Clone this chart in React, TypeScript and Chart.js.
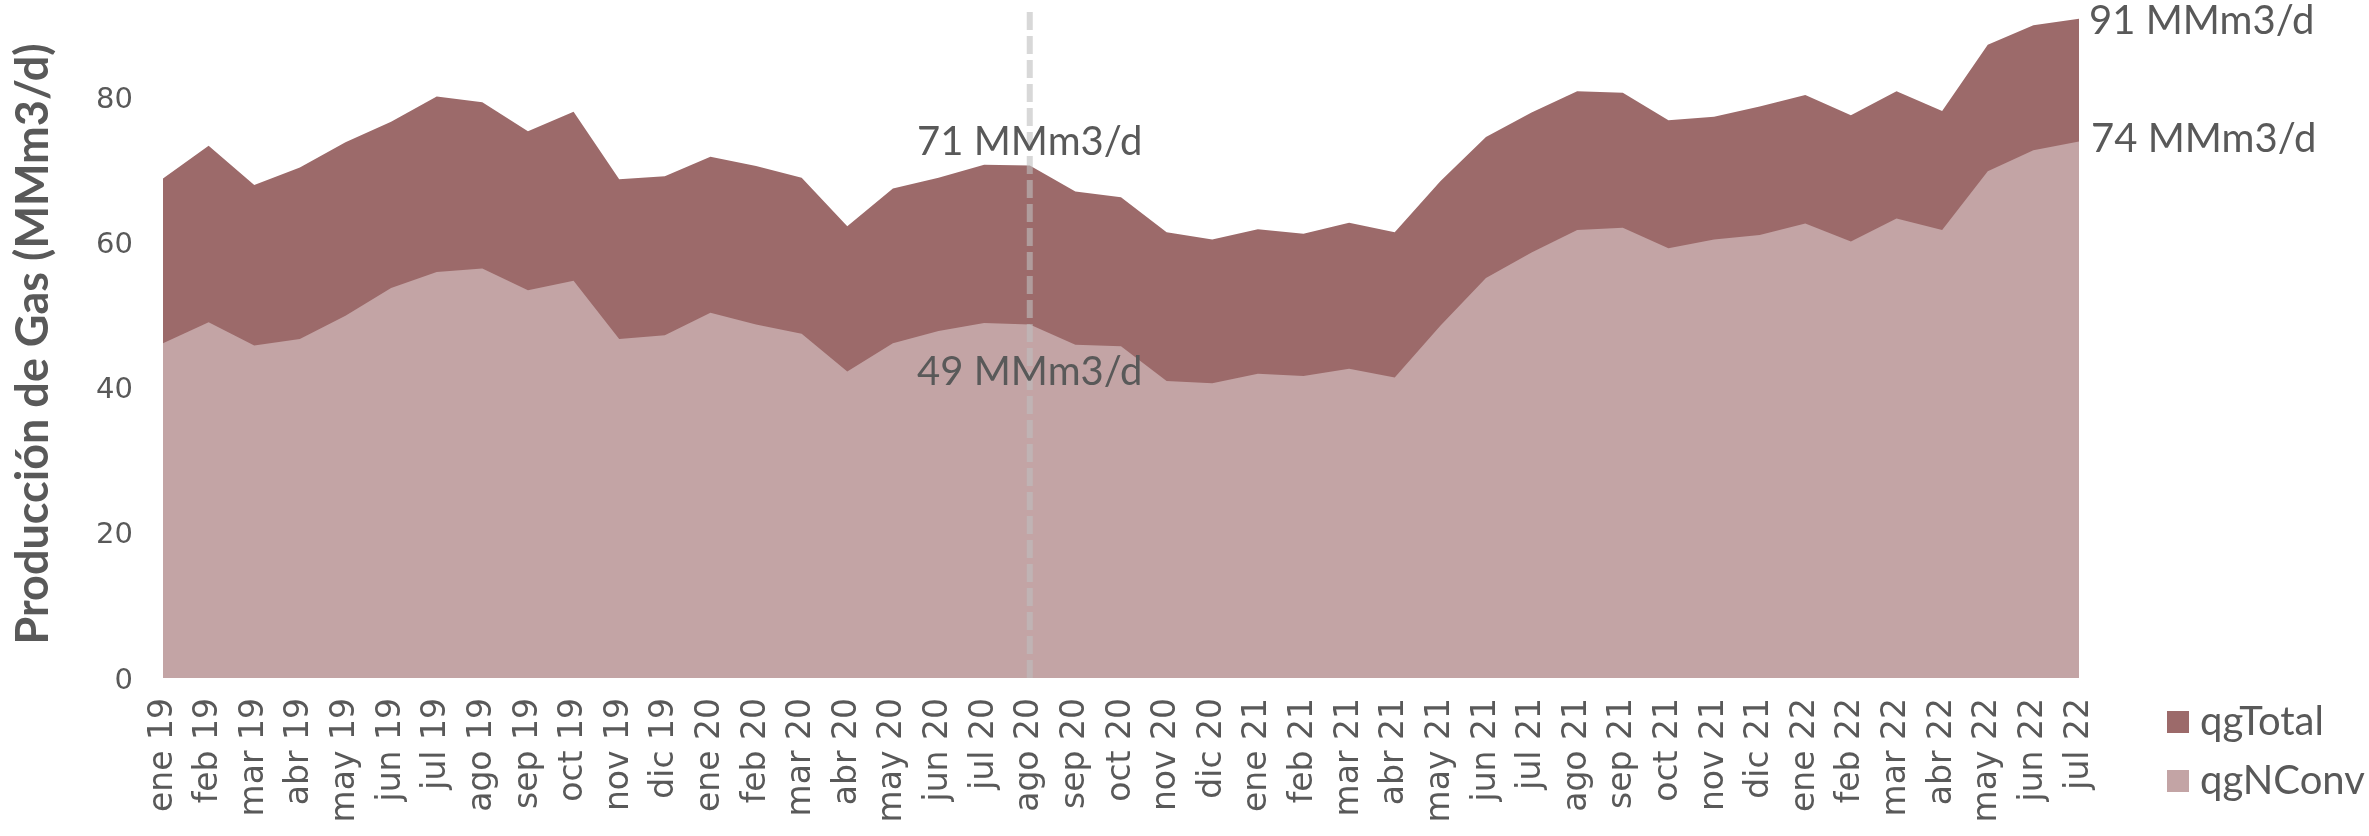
import React, { useEffect, useRef } from 'react';
import { Chart, registerables } from 'chart.js';

Chart.register(...registerables);

const labels = [
  'ene 19', 'feb 19', 'mar 19', 'abr 19', 'may 19', 'jun 19', 'jul 19', 'ago 19', 'sep 19', 'oct 19', 'nov 19', 'dic 19',
  'ene 20', 'feb 20', 'mar 20', 'abr 20', 'may 20', 'jun 20', 'jul 20', 'ago 20', 'sep 20', 'oct 20', 'nov 20', 'dic 20',
  'ene 21', 'feb 21', 'mar 21', 'abr 21', 'may 21', 'jun 21', 'jul 21', 'ago 21', 'sep 21', 'oct 21', 'nov 21', 'dic 21',
  'ene 22', 'feb 22', 'mar 22', 'abr 22', 'may 22', 'jun 22', 'jul 22',
];

const qgTotal = [
  68.8, 73.3, 67.9, 70.3, 73.8, 76.6, 80.1, 79.3, 75.3, 78.0, 68.7, 69.1,
  71.8, 70.5, 68.9, 62.2, 67.4, 68.9, 70.7, 70.6, 67.0, 66.2, 61.4, 60.4,
  61.8, 61.2, 62.7, 61.4, 68.4, 74.5, 77.9, 80.8, 80.6, 76.8, 77.3, 78.7,
  80.3, 77.5, 80.8, 78.1, 87.2, 89.9, 90.8,
];

const qgNConv = [
  46.1, 49.0, 45.8, 46.7, 49.9, 53.7, 55.9, 56.4, 53.4, 54.7, 46.7, 47.2,
  50.3, 48.7, 47.4, 42.2, 46.1, 47.8, 48.9, 48.7, 45.9, 45.7, 40.9, 40.6,
  41.9, 41.6, 42.6, 41.4, 48.5, 55.1, 58.6, 61.7, 62.0, 59.2, 60.4, 61.0,
  62.6, 60.1, 63.3, 61.7, 69.8, 72.7, 73.9,
];

const yTicks = [0, 20, 40, 60, 80];
const markerLabel = 'ago 20';
const unit = 'MMm3/d';
const yTitle = 'Producción de Gas (MMm3/d)';

const COLOR_TOTAL = '#9C6A6A';
const COLOR_NCONV = '#C3A4A5';
const TEXT = '#595959';

const overlayPlugin = {
  id: 'overlay',
  afterDatasetsDraw(chart: any) {
    const { ctx, chartArea, scales } = chart;
    const x = scales.x;
    const y = scales.y;
    const mi = labels.indexOf(markerLabel);
    const xm = x.getPixelForValue(mi);
    ctx.save();
    // dashed vertical marker
    ctx.strokeStyle = 'rgba(190,190,190,0.6)';
    ctx.lineWidth = 6;
    ctx.setLineDash([18, 6]);
    ctx.beginPath();
    ctx.moveTo(xm, chartArea.top + 2);
    ctx.lineTo(xm, chartArea.bottom);
    ctx.stroke();
    ctx.setLineDash([]);

    ctx.font = '40px Lato';
    ctx.fillStyle = TEXT;
    ctx.textBaseline = 'middle';
    // labels at marker
    ctx.textAlign = 'center';
    ctx.fillText(`${Math.round(qgTotal[mi])} ${unit}`, xm, y.getPixelForValue(qgTotal[mi]) - 23);
    ctx.fillText(`${Math.round(qgNConv[mi])} ${unit}`, xm, y.getPixelForValue(qgNConv[mi]) + 48);
    // end labels
    const li = labels.length - 1;
    const xl = x.getPixelForValue(li);
    ctx.textAlign = 'left';
    ctx.fillText(`${Math.round(qgTotal[li])} ${unit}`, xl + 10, y.getPixelForValue(qgTotal[li]) + 2);
    ctx.fillText(`${Math.round(qgNConv[li])} ${unit}`, xl + 12, y.getPixelForValue(qgNConv[li]) - 2);

    // legend
    const items = [
      { text: 'qgTotal', color: COLOR_TOTAL },
      { text: 'qgNConv', color: COLOR_NCONV },
    ];
    const lx = chartArea.right + 88;
    items.forEach((it, i) => {
      const cy = chartArea.bottom + 44 + i * 59;
      ctx.fillStyle = it.color;
      ctx.fillRect(lx, cy - 11, 22, 22);
      ctx.fillStyle = TEXT;
      ctx.textAlign = 'left';
      ctx.fillText(it.text, lx + 33, cy);
    });
    ctx.restore();
  },
};

export default function App() {
  const ref = useRef<HTMLCanvasElement | null>(null);
  useEffect(() => {
    document.body.style.margin = '0';
    const canvas = ref.current;
    if (!canvas) return;
    const chart = new Chart(canvas, {
      type: 'line',
      data: {
        labels,
        datasets: [
          {
            label: 'qgTotal',
            data: qgTotal,
            backgroundColor: COLOR_TOTAL,
            borderColor: 'rgba(0,0,0,0)',
            borderWidth: 0,
            fill: 'origin',
            pointRadius: 0,
            tension: 0,
            order: 2,
          },
          {
            label: 'qgNConv',
            data: qgNConv,
            backgroundColor: COLOR_NCONV,
            borderColor: 'rgba(0,0,0,0)',
            borderWidth: 0,
            fill: 'origin',
            pointRadius: 0,
            tension: 0,
            order: 1,
          },
        ],
      },
      options: {
        animation: false,
        responsive: false,
        devicePixelRatio: 1,
        layout: { padding: { left: 0, top: 10, right: 290, bottom: 0 } },
        plugins: {
          legend: { display: false },
          tooltip: { enabled: false },
        },
        scales: {
          x: {
            type: 'category',
            grid: { display: false, drawTicks: false },
            border: { display: false },
            ticks: {
              autoSkip: false,
              minRotation: 90,
              maxRotation: 90,
              padding: 20,
              color: TEXT,
              font: { family: 'DejaVu Sans', size: 33 },
            },
            afterFit(axis: any) {
              axis.height = 158;
              axis.paddingLeft = 0;
              axis.paddingRight = 0;
              axis.paddingTop = 0;
              axis.paddingBottom = 0;
            },
          },
          y: {
            min: 0,
            max: 92,
            grid: { display: false, drawTicks: false },
            border: { display: false },
            afterBuildTicks(axis: any) {
              axis.ticks = yTicks.map((v) => ({ value: v }));
            },
            ticks: {
              padding: 30,
              labelOffset: 3,
              color: TEXT,
              font: { family: 'DejaVu Sans', size: 29 },
            },
            title: {
              display: true,
              text: yTitle,
              color: TEXT,
              font: { family: 'Lato', weight: 'bold', size: 45 },
              padding: { top: 6, bottom: 0 },
            },
            afterFit(axis: any) {
              axis.width = 163;
              axis.paddingLeft = 0;
              axis.paddingRight = 0;
              axis.paddingTop = 0;
              axis.paddingBottom = 0;
            },
          },
        },
      },
      plugins: [overlayPlugin],
    });
    return () => chart.destroy();
  }, []);
  return (
    <div style={{ position: 'absolute', left: 0, top: 0, width: 2369, height: 836, background: '#fff' }}>
      <canvas ref={ref} width={2369} height={836} style={{ width: 2369, height: 836, display: 'block' }} />
    </div>
  );
}
